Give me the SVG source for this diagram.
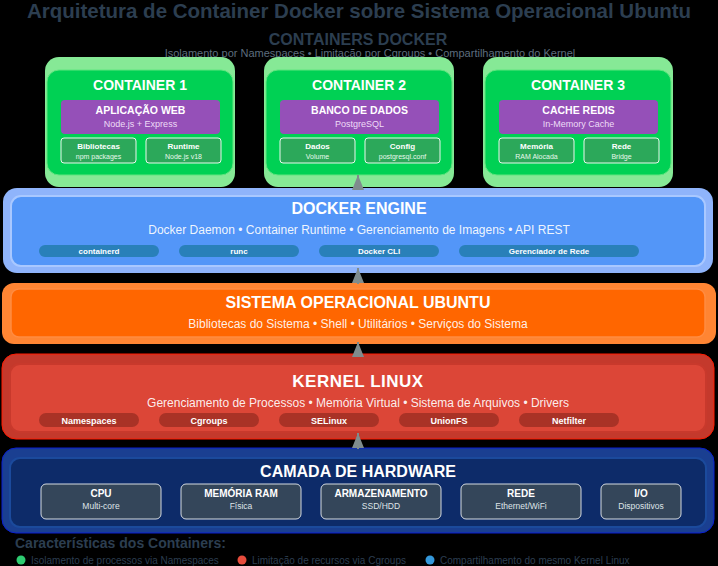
<svg xmlns="http://www.w3.org/2000/svg" width="718" height="566" viewBox="0 0 718 566">
<defs>
<style>
text{font-family:"Liberation Sans",Arial,Helvetica,sans-serif;text-anchor:middle}
.h1{font-size:20.5px;font-weight:bold;fill:#2c3e50}
.h2{font-size:16px;font-weight:bold;fill:#2c3e50}
.sub{font-size:11px;fill:#5d6d7e}
.cglow{fill:#86e996}
.cbox{fill:#00d154;stroke:#5ee67e;stroke-width:1}
.ctitle{font-size:14px;font-weight:bold;fill:#fff}
.app{fill:#9550b8}
.apptitle{font-size:10.5px;font-weight:bold;fill:#fff}
.appsub{font-size:9px;fill:#eedcf7}
.comp{fill:#2ca85a;stroke:#e8f8ec;stroke-width:1}
.compt{font-size:8px;font-weight:bold;fill:#fff}
.comps{font-size:7px;fill:#e8f8ec}
.ltitle{font-size:16px;font-weight:bold;fill:#fff}
.lsub{font-size:12px;fill:#fff;fill-opacity:0.92}
.pillD{fill:#2980b9}
.pillK{fill:#a93226}
.pillt{font-size:8px;font-weight:bold;fill:#fff}
.pilltk{font-size:9px;font-weight:bold;fill:#fff}
.hw{fill:#34465a;stroke:#d5dbe0;stroke-width:1}
.hwt{font-size:10px;font-weight:bold;fill:#fff}
.hws{font-size:8.5px;fill:#dfe4e8}
.legt{font-size:14px;font-weight:bold;fill:#2c3e50;text-anchor:start}
.leg{font-size:10px;fill:#2c3e50;text-anchor:start}
.conn{stroke:#7f8c8d;stroke-width:2}
</style>
<marker id="arr" markerUnits="userSpaceOnUse" markerWidth="15" markerHeight="12" viewBox="0 0 15 12" refX="15" refY="6" orient="auto">
<path d="M0,0 L15,6 L0,12 z" fill="#7f8c8d"/>
</marker>
</defs>
<rect width="718" height="566" fill="#000"/>

<text class="h1" x="359" y="18">Arquitetura de Container Docker sobre Sistema Operacional Ubuntu</text>
<text class="h2" x="358" y="45">CONTAINERS DOCKER</text>
<text class="sub" x="370" y="57">Isolamento por Namespaces • Limitação por Cgroups • Compartilhamento do Kernel</text>

<g id="container1">
<rect class="cglow" x="45" y="57" width="190" height="130" rx="14"/>
<rect class="cbox" x="47" y="70" width="186" height="105" rx="12"/>
<text class="ctitle" x="140" y="90">CONTAINER 1</text>
<rect class="app" x="61" y="100" width="159" height="34" rx="4"/>
<text class="apptitle" x="140.5" y="114">APLICAÇÃO WEB</text>
<text class="appsub" x="140.5" y="127">Node.js + Express</text>
<rect class="comp" x="61" y="138" width="75" height="25" rx="3"/>
<text class="compt" x="98.5" y="149">Bibliotecas</text>
<text class="comps" x="98.5" y="158.5">npm packages</text>
<rect class="comp" x="146" y="138" width="75" height="25" rx="3"/>
<text class="compt" x="183.5" y="149">Runtime</text>
<text class="comps" x="183.5" y="158.5">Node.js v18</text>
</g>

<g id="container2" transform="translate(219,0)">
<rect class="cglow" x="45" y="57" width="190" height="130" rx="14"/>
<rect class="cbox" x="47" y="70" width="186" height="105" rx="12"/>
<text class="ctitle" x="140" y="90">CONTAINER 2</text>
<rect class="app" x="61" y="100" width="159" height="34" rx="4"/>
<text class="apptitle" x="140.5" y="114">BANCO DE DADOS</text>
<text class="appsub" x="140.5" y="127">PostgreSQL</text>
<rect class="comp" x="61" y="138" width="75" height="25" rx="3"/>
<text class="compt" x="98.5" y="149">Dados</text>
<text class="comps" x="98.5" y="158.5">Volume</text>
<rect class="comp" x="146" y="138" width="75" height="25" rx="3"/>
<text class="compt" x="183.5" y="149">Config</text>
<text class="comps" x="183.5" y="158.5">postgresql.conf</text>
</g>

<g id="container3" transform="translate(438,0)">
<rect class="cglow" x="45" y="57" width="190" height="130" rx="14"/>
<rect class="cbox" x="47" y="70" width="186" height="105" rx="12"/>
<text class="ctitle" x="140" y="90">CONTAINER 3</text>
<rect class="app" x="61" y="100" width="159" height="34" rx="4"/>
<text class="apptitle" x="140.5" y="114">CACHE REDIS</text>
<text class="appsub" x="140.5" y="127">In-Memory Cache</text>
<rect class="comp" x="61" y="138" width="75" height="25" rx="3"/>
<text class="compt" x="98.5" y="149">Memória</text>
<text class="comps" x="98.5" y="158.5">RAM Alocada</text>
<rect class="comp" x="146" y="138" width="75" height="25" rx="3"/>
<text class="compt" x="183.5" y="149">Rede</text>
<text class="comps" x="183.5" y="158.5">Bridge</text>
</g>

<g id="docker-engine">
<rect x="3" y="188" width="710" height="85" rx="14" fill="#8fb4fb"/>
<rect x="11" y="196" width="694" height="70" rx="10" fill="#5396f8" stroke="#a9c8ff" stroke-width="2"/>
<text class="ltitle" x="359" y="214">DOCKER ENGINE</text>
<text class="lsub" x="359" y="234">Docker Daemon • Container Runtime • Gerenciamento de Imagens • API REST</text>
<rect class="pillD" x="39" y="245" width="120" height="12" rx="6"/>
<text class="pillt" x="99" y="254">containerd</text>
<rect class="pillD" x="179" y="245" width="120" height="12" rx="6"/>
<text class="pillt" x="239" y="254">runc</text>
<rect class="pillD" x="319" y="245" width="120" height="12" rx="6"/>
<text class="pillt" x="379" y="254">Docker CLI</text>
<rect class="pillD" x="459" y="245" width="180" height="12" rx="6"/>
<text class="pillt" x="549" y="254">Gerenciador de Rede</text>
</g>

<g id="ubuntu">
<rect x="2" y="283" width="714" height="61" rx="12" fill="#ff8533"/>
<rect x="11" y="289" width="694" height="48" rx="8" fill="#ff6600" stroke="#ff8c42" stroke-width="1.5"/>
<text class="ltitle" x="358" y="308">SISTEMA OPERACIONAL UBUNTU</text>
<text class="lsub" x="358" y="328">Bibliotecas do Sistema • Shell • Utilitários • Serviços do Sistema</text>
</g>

<g id="kernel">
<rect x="2" y="354" width="712" height="85" rx="14" fill="#c4392c" stroke="#ff1a00" stroke-width="1"/>
<rect x="10" y="364" width="696" height="68" rx="10" fill="#dc4637" stroke="#c8392c" stroke-width="2"/>
<text class="ltitle" x="358" y="387" style="font-size:17px;letter-spacing:0.5px">KERNEL LINUX</text>
<text class="lsub" x="358" y="407">Gerenciamento de Processos • Memória Virtual • Sistema de Arquivos • Drivers</text>
<rect class="pillK" x="39" y="413" width="100" height="14" rx="7"/>
<text class="pilltk" x="89" y="423.5">Namespaces</text>
<rect class="pillK" x="159" y="413" width="100" height="14" rx="7"/>
<text class="pilltk" x="209" y="423.5">Cgroups</text>
<rect class="pillK" x="279" y="413" width="100" height="14" rx="7"/>
<text class="pilltk" x="329" y="423.5">SELinux</text>
<rect class="pillK" x="399" y="413" width="100" height="14" rx="7"/>
<text class="pilltk" x="449" y="423.5">UnionFS</text>
<rect class="pillK" x="519" y="413" width="100" height="14" rx="7"/>
<text class="pilltk" x="569" y="423.5">Netfilter</text>
</g>

<g id="hardware">
<rect x="2" y="448" width="712" height="85" rx="14" fill="#1a3f91" stroke="#0a1fd0" stroke-width="1"/>
<rect x="10" y="458" width="696" height="69" rx="10" fill="#0d2b69" stroke="#1b4a9c" stroke-width="2"/>
<text class="ltitle" x="358" y="477">CAMADA DE HARDWARE</text>
<rect class="hw" x="41" y="484" width="120" height="35" rx="5"/>
<text class="hwt" x="101" y="497">CPU</text>
<text class="hws" x="101" y="509">Multi-core</text>
<rect class="hw" x="181" y="484" width="120" height="35" rx="5"/>
<text class="hwt" x="241" y="497">MEMÓRIA RAM</text>
<text class="hws" x="241" y="509">Física</text>
<rect class="hw" x="321" y="484" width="120" height="35" rx="5"/>
<text class="hwt" x="381" y="497">ARMAZENAMENTO</text>
<text class="hws" x="381" y="509">SSD/HDD</text>
<rect class="hw" x="461" y="484" width="120" height="35" rx="5"/>
<text class="hwt" x="521" y="497">REDE</text>
<text class="hws" x="521" y="509">Ethernet/WiFi</text>
<rect class="hw" x="601" y="484" width="80" height="35" rx="5"/>
<text class="hwt" x="641" y="497">I/O</text>
<text class="hws" x="641" y="509">Dispositivos</text>
</g>

<g id="connectors">
<line class="conn" x1="358" y1="190" x2="358" y2="175" marker-end="url(#arr)"/>
<line class="conn" x1="358" y1="284" x2="358" y2="268" marker-end="url(#arr)"/>
<line class="conn" x1="358" y1="357" x2="358" y2="342" marker-end="url(#arr)"/>
<line class="conn" x1="358" y1="449" x2="358" y2="433" marker-end="url(#arr)"/>
</g>

<g id="legend">
<text class="legt" x="15" y="548">Características dos Containers:</text>
<circle cx="21" cy="560" r="4.5" fill="#2ecc71"/>
<text class="leg" x="31" y="563.5">Isolamento de processos via Namespaces</text>
<circle cx="242" cy="560" r="4.5" fill="#e74c3c"/>
<text class="leg" x="252" y="563.5">Limitação de recursos via Cgroups</text>
<circle cx="430" cy="560" r="4.5" fill="#3498db"/>
<text class="leg" x="440" y="563.5">Compartilhamento do mesmo Kernel Linux</text>
</g>
</svg>
